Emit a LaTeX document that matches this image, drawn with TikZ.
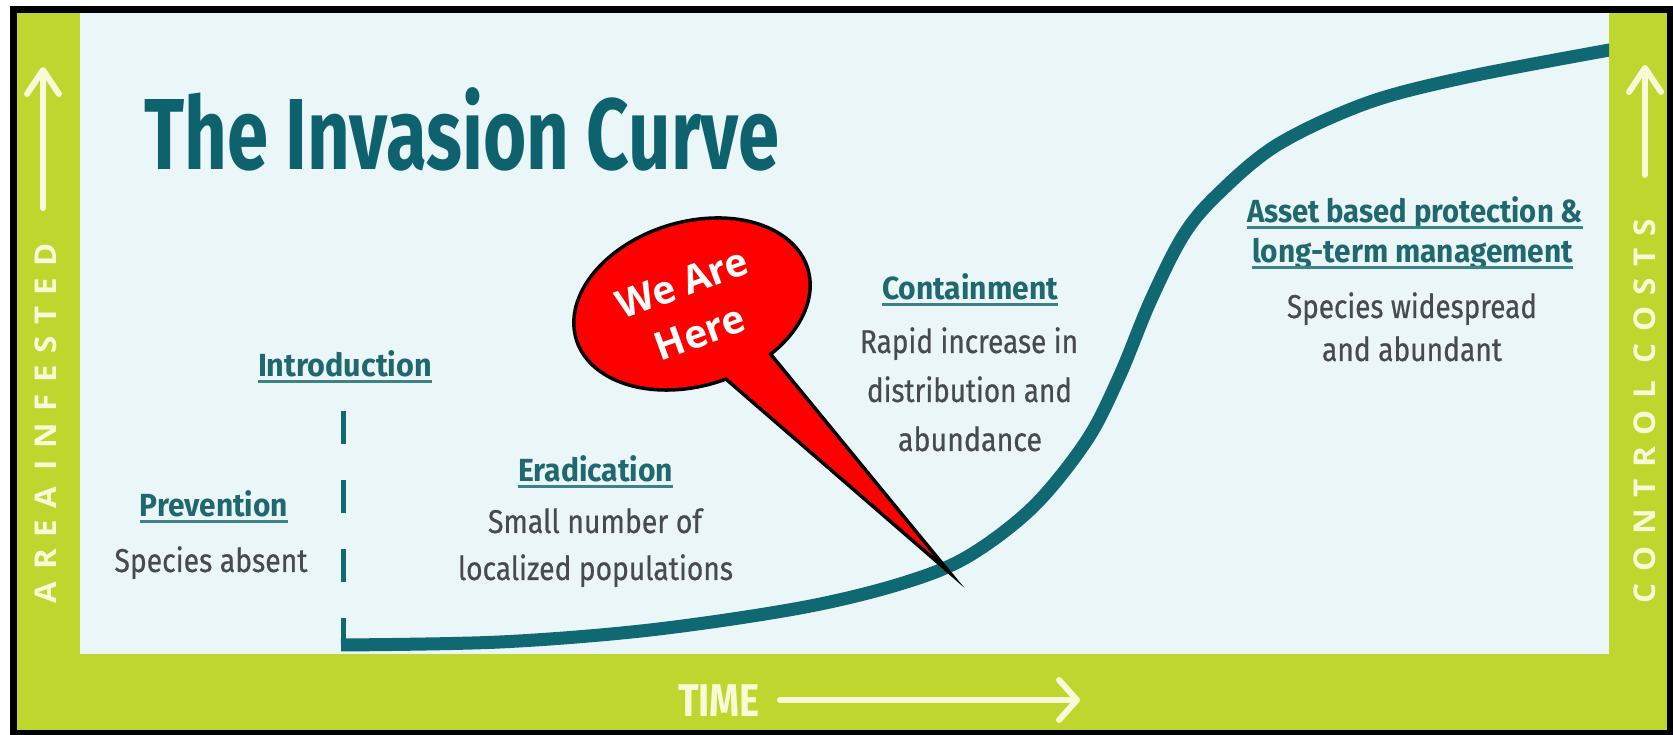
\documentclass[tikz,border=0pt]{standalone}
\usepackage{fontspec}
\usepackage{graphicx}
\usetikzlibrary{arrows.meta}
\setmainfont{Fira Sans}
\newfontfamily\bodyfont{Fira Sans}[FakeBold=0.6]
\newfontfamily\bubblefont{Open Sans}
\newfontfamily\axisfont{Open Sans}
\definecolor{limegreen}{RGB}{191,214,46}
\definecolor{panelbg}{RGB}{235,246,249}
\definecolor{curveteal}{RGB}{16,104,114}
\definecolor{titleteal}{RGB}{14,98,110}
\definecolor{headteal}{RGB}{30,104,110}
\definecolor{ulteal}{RGB}{60,130,135}
\definecolor{bodygray}{RGB}{72,74,80}
\definecolor{cream}{RGB}{246,250,214}
\definecolor{bubblered}{RGB}{255,0,0}
\newcommand\fitw[2]{\resizebox{#1}{\height}{#2}}
\newcommand\lsp{\kern11pt}
\newcommand\wsp{\kern16pt}
\begin{document}
\begin{tikzpicture}[x=1pt,y=1pt,
  titletext/.style={anchor=base west,inner sep=0pt,text=titleteal,font=\bfseries\fontsize{101}{101}\selectfont},
  headtext/.style={anchor=base,inner sep=0pt,text=headteal,font=\bfseries\fontsize{32}{32}\selectfont},
  bodytext/.style={anchor=base,inner sep=0pt,text=bodygray,font=\bodyfont\fontsize{33}{33}\selectfont},
  uline/.style={draw=ulteal,line width=2.5pt},
  curveline/.style={draw=curveteal,line width=13pt},
  dashline/.style={draw=curveteal,line width=5pt,dash pattern=on 33pt off 36pt},
  bubbleshape/.style={fill=bubblered,draw=black,line width=3.5pt,miter limit=25,line join=miter},
  bubbletext/.style={text=white,align=center,inner sep=0pt,font=\bubblefont\bfseries\fontsize{39}{52}\selectfont},
  axislab/.style={inner sep=0pt,text=cream,font=\axisfont\bfseries\fontsize{30}{30}\selectfont},
  axisarrow/.style={draw=cream,line width=6pt,line cap=round}
]
\useasboundingbox (0,0) rectangle (1673,735);
\fill[white] (0,0) rectangle (1673,735);
\fill[black] (10,0) rectangle (1673,729);
\fill[limegreen] (17,5) rectangle (1667,722);
\fill[panelbg] (80,81) rectangle (1609,722);

% title
\node[titletext] (title) at (144,565) {\resizebox{635pt}{\height}{The Invasion Curve}};

% curve
\begin{scope}
\clip (80,81) rectangle (1609,722);
\draw[curveline] plot[smooth,tension=0.55] coordinates {(341,90) (500,93) (650,105) (800,127) (900,151) (967,178) (1033,228) (1087,295) (1120,360) (1150,433) (1183,499) (1217,540) (1277,590) (1367,632) (1467,658) (1615,686)};
\end{scope}

% introduction dashed line
\coordinate (d0) at (343,324);
\coordinate (d1) at (343,84);
\draw[dashline] (d0) -- (d1);

% labels
\node[headtext] (prev) at (214,218) {\fitw{148pt}{Prevention}};
\node[bodytext] (preva) at (211,163) {\fitw{193pt}{Species absent}};
\node[headtext] (intro) at (345,358) {\fitw{174pt}{Introduction}};
\node[headtext] (erad) at (595.5,253) {\fitw{155pt}{Eradication}};
\node[bodytext] (erada) at (595,202) {\fitw{214pt}{Small number of}};
\node[bodytext] (eradb) at (595.5,155) {\fitw{275pt}{localized populations}};
\node[headtext] (cont) at (970,435) {\fitw{176pt}{Containment}};
\node[bodytext] (conta) at (969,382) {\fitw{218pt}{Rapid increase in}};
\node[bodytext] (contb) at (969.5,333) {\fitw{205pt}{distribution and}};
\node[bodytext] (contc) at (970,284) {\fitw{144pt}{abundance}};
\node[headtext] (asset) at (1415,512) {\fitw{336pt}{Asset based protection \&}};
\node[headtext] (long) at (1412.5,472) {\fitw{321pt}{long-term management}};
\node[bodytext] (assa) at (1412,417) {\fitw{250pt}{Species widespread}};
\node[bodytext] (assb) at (1412,374) {\fitw{180pt}{and abundant}};
\foreach \n in {prev,intro,erad,cont,asset,long}
  \draw[uline] ([yshift=-4.5pt]\n.base west) -- ([yshift=-4.5pt]\n.base east);

% bubble
\coordinate (tip) at (950,162);
\begin{scope}[shift={(692,431)},rotate=17]
  \draw[bubbleshape] (-60:121 and 82) arc[start angle=-60,end angle=275,x radius=121,y radius=82] -- (tip) -- cycle;
\end{scope}
\node[bubbletext,rotate=20] (here) at (691,427) {We Are\\Here};

% axes
\node[axislab,rotate=90] (ylab) at (46,312) {\resizebox{360pt}{\height}{A\lsp R\lsp E\lsp A\wsp I\lsp N\lsp F\lsp E\lsp S\lsp T\lsp E\lsp D}};
\node[axislab,rotate=90] (clab) at (1645,324) {\resizebox{384pt}{\height}{C\lsp O\lsp N\lsp T\lsp R\lsp O\lsp L\wsp C\lsp O\lsp S\lsp T\lsp S}};
\coordinate (la0) at (43,527);
\coordinate (la1) at (43,668);
\draw[axisarrow,-{Straight Barb[length=24pt,width=32pt,round]}] (la0) -- (la1);
\coordinate (ra0) at (1645,560);
\coordinate (ra1) at (1645,670);
\draw[axisarrow,-{Straight Barb[length=24pt,width=32pt,round]}] (ra0) -- (ra1);

\node[anchor=base,inner sep=0pt,text=cream,font=\bfseries\fontsize{46}{46}\selectfont] (time) at (719,18) {\fitw{82pt}{TIME}};
\coordinate (t0) at (780,35);
\coordinate (t1) at (1080,35);
\draw[axisarrow,-{Straight Barb[length=18pt,width=40pt,round]}] (t0) -- (t1);
\end{tikzpicture}
\end{document}
